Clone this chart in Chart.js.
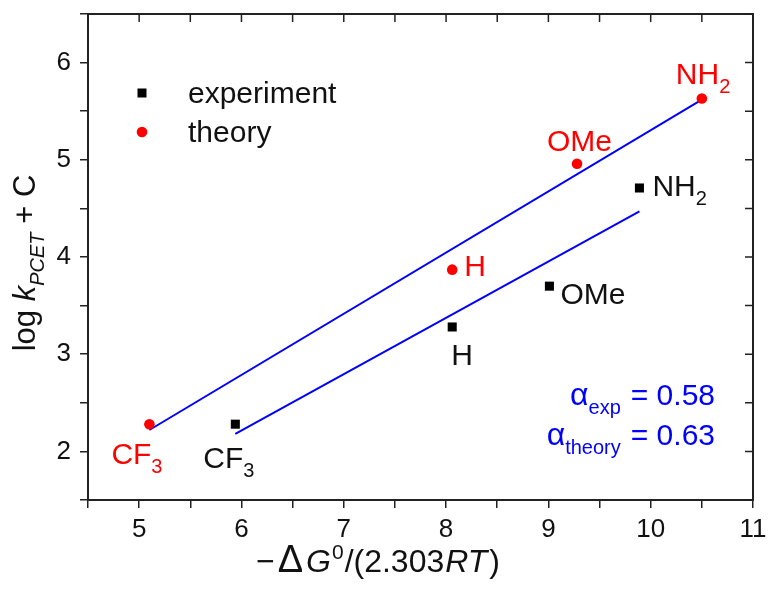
<!DOCTYPE html>
<html>
<head>
<meta charset="utf-8">
<script src="https://cdn.jsdelivr.net/npm/chart.js@4.4.1/dist/chart.umd.min.js"></script>
<style>
  html, body { margin: 0; padding: 0; background: #fff; }
  #wrap { width: 771px; height: 595px; position: relative; }
</style>
</head>
<body>
<div id="wrap"><canvas id="pcet-chart"></canvas></div>
<script>
// 데이터
var substituents = ['CF3', 'H', 'OMe', 'NH2'];

var expX = [5.94, 8.06, 9.01, 9.89];
var expY = [2.28, 3.28, 3.70, 4.71];

var theoryX = [5.10, 8.06, 9.28, 10.50];
var theoryY = [2.28, 3.87, 4.96, 5.63];

// 선형 피팅 직선 끝점
var fitExpX = [5.94, 9.89];
var fitExpY = [2.18, 4.47];
var fitTheoryX = [5.10, 10.50];
var fitTheoryY = [2.22, 5.62];

var alphaExp = '0.58';
var alphaTheory = '0.63';

var xTicks = [4.5, 11];
var yTicks = [1.5, 6.5];

// 스타일
var FONT = '"Liberation Sans", Arial, sans-serif';
var RED = '#ff0000';
var BLUE = '#0000ff';
var INK = '#111111';
var AXIS = '#222222';

// 라벨 위치 오프셋 (점 기준 px, 왼쪽 x / 기준선 y)
var expLabelOffsets = [[-32, 44], [-1, 38], [11, 18], [13, 8]];
var theoryLabelOffsets = [[-38, 40], [12, 6], [-30, -13], [-26, -15]];

function toPoints(xs, ys) {
    return xs.map(function (x, i) { return { x: x, y: ys[i] }; });
}

// 'CF3' -> CF + 아래첨자 3
function chemRuns(label) {
    var runs = [];
    label.split(/(\d+)/).forEach(function (part) {
        if (!part) return;
        runs.push({ t: part, sub: /^\d+$/.test(part) });
    });
    return runs;
}

// 여러 스타일이 섞인 텍스트 그리기
function drawRuns(ctx, runs, x, y, size, color, align) {
    function fontOf(r) {
        var s = r.size || ((r.sub || r.sup) ? Math.round(size * 0.66) : size);
        return (r.i ? 'italic ' : '') + s + 'px ' + FONT;
    }
    var total = 0;
    runs.forEach(function (r) {
        ctx.font = fontOf(r);
        r._w = ctx.measureText(r.t).width + (r.gap || 0);
        total += r._w;
    });
    var cx = x;
    if (align === 'center') cx = x - total / 2;
    if (align === 'right') cx = x - total;
    ctx.fillStyle = color;
    ctx.textBaseline = 'alphabetic';
    ctx.textAlign = 'left';
    runs.forEach(function (r) {
        ctx.font = fontOf(r);
        var dy = r.sub ? size * 0.3 : (r.sup ? -size * 0.4 : 0);
        ctx.fillText(r.t, cx, y + dy);
        cx += r._w;
    });
}

// 축 제목, 범례, 라벨, 위/오른쪽 눈금을 그리는 플러그인
var decorPlugin = {
    id: 'decor',
    afterDraw: function (chart) {
        var ctx = chart.ctx;
        var area = chart.chartArea;
        var xs = chart.scales.x;
        var ys = chart.scales.y;
        ctx.save();

        // 위쪽, 오른쪽 테두리와 안쪽 눈금
        ctx.strokeStyle = AXIS;
        ctx.lineWidth = 2;
        ctx.beginPath();
        ctx.moveTo(area.left - 1, area.top);
        ctx.lineTo(area.right, area.top);
        ctx.lineTo(area.right, area.bottom + 1);
        ctx.stroke();
        ctx.lineWidth = 1.5;
        ctx.beginPath();
        xs.ticks.forEach(function (t) {
            var px = xs.getPixelForValue(t.value);
            ctx.moveTo(px, area.top);
            ctx.lineTo(px, area.top + 8);
        });
        ys.ticks.forEach(function (t) {
            var py = ys.getPixelForValue(t.value);
            ctx.moveTo(area.right, py);
            ctx.lineTo(area.right - 8, py);
        });
        ctx.stroke();

        // x축 제목
        drawRuns(ctx, [
            { t: '\u2212', gap: 3 },
            { t: '\u0394', size: 38, gap: 3 },
            { t: 'G', i: true, gap: 1 },
            { t: '0', sup: true, gap: 1 },
            { t: '/(' },
            { t: '2.303', gap: 1 },
            { t: 'RT', i: true, gap: 2 },
            { t: ')' }
        ], 378, 572, 32, INK, 'center');

        // y축 제목 (세로)
        ctx.save();
        ctx.translate(35, 263);
        ctx.rotate(-Math.PI / 2);
        drawRuns(ctx, [
            { t: 'log ' },
            { t: 'k', i: true },
            { t: 'PCET', i: true, sub: true },
            { t: ' + C' }
        ], 0, 0, 31, INK, 'center');
        ctx.restore();

        // 범례
        ctx.fillStyle = '#000';
        ctx.fillRect(137.5, 88.5, 9, 9);
        ctx.fillStyle = RED;
        ctx.beginPath();
        ctx.arc(142, 132, 5.3, 0, Math.PI * 2);
        ctx.fill();
        drawRuns(ctx, [{ t: 'experiment' }], 188, 103, 30, INK, 'left');
        drawRuns(ctx, [{ t: 'theory' }], 188, 142, 30, INK, 'left');

        // 치환기 라벨
        substituents.forEach(function (name, i) {
            var px = xs.getPixelForValue(expX[i]);
            var py = ys.getPixelForValue(expY[i]);
            drawRuns(ctx, chemRuns(name), px + expLabelOffsets[i][0], py + expLabelOffsets[i][1], 30, INK, 'left');
            px = xs.getPixelForValue(theoryX[i]);
            py = ys.getPixelForValue(theoryY[i]);
            drawRuns(ctx, chemRuns(name), px + theoryLabelOffsets[i][0], py + theoryLabelOffsets[i][1], 30, RED, 'left');
        });

        // 기울기 값
        drawRuns(ctx, [{ t: '\u03b1', size: 32 }, { t: 'exp', sub: true, gap: 10 }, { t: '= ' + alphaExp }], 715, 405, 30, BLUE, 'right');
        drawRuns(ctx, [{ t: '\u03b1', size: 32 }, { t: 'theory', sub: true, gap: 10 }, { t: '= ' + alphaTheory }], 715, 445, 30, BLUE, 'right');

        ctx.restore();
    }
};

function axisOptions(range, fitSize, pad) {
    return {
        type: 'linear',
        min: range[0],
        max: range[1],
        afterFit: fitSize,
        ticks: {
            stepSize: 0.5,
            autoSkip: false,
            maxRotation: 0,
            color: INK,
            padding: pad,
            font: { family: FONT, size: 26 },
            callback: function (v) { return Number.isInteger(v) ? String(v) : ''; }
        },
        grid: { drawOnChartArea: false, drawTicks: true, tickLength: 8, color: AXIS, lineWidth: 1.5 },
        border: { display: true, color: AXIS, width: 2 }
    };
}

var chart = new Chart(document.getElementById('pcet-chart'), {
    type: 'scatter',
    data: {
        datasets: [{
            label: 'experiment',
            data: toPoints(expX, expY),
            pointStyle: 'rect',
            pointRadius: 6.4,
            backgroundColor: '#000',
            borderWidth: 0
        }, {
            label: 'theory',
            data: toPoints(theoryX, theoryY),
            pointStyle: 'circle',
            pointRadius: 5.3,
            backgroundColor: RED,
            borderWidth: 0
        }, {
            label: 'fit exp',
            data: toPoints(fitExpX, fitExpY),
            showLine: true,
            pointRadius: 0,
            borderColor: BLUE,
            borderWidth: 2
        }, {
            label: 'fit theory',
            data: toPoints(fitTheoryX, fitTheoryY),
            showLine: true,
            pointRadius: 0,
            borderColor: BLUE,
            borderWidth: 2
        }]
    },
    options: {
        responsive: true,
        maintainAspectRatio: false,
        animation: false,
        layout: { padding: { top: 14, right: 18, left: 0, bottom: 0 } },
        plugins: { legend: { display: false }, tooltip: { enabled: false } },
        scales: {
            x: axisOptions(xTicks, function (s) { s.height = 95; s.paddingLeft = 0; s.paddingRight = 0; }, 6),
            y: axisOptions(yTicks, function (s) { s.width = 88; s.paddingTop = 0; s.paddingBottom = 0; }, 9)
        }
    },
    plugins: [decorPlugin]
});
</script>
</body>
</html>
